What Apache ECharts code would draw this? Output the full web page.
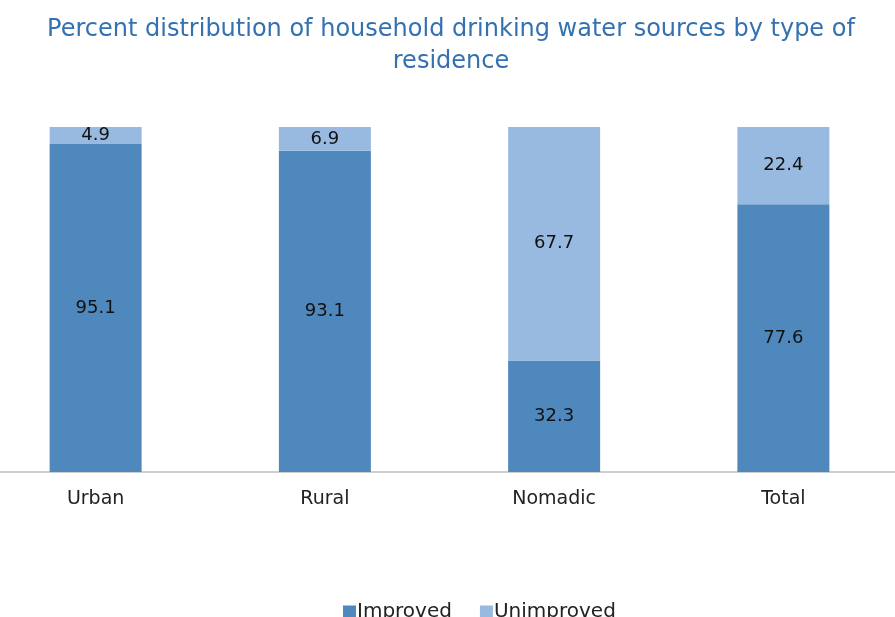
<!DOCTYPE html>
<html>
<head>
<meta charset="utf-8">
<script src="https://cdn.jsdelivr.net/npm/echarts@6/dist/echarts.min.js"></script>
<style>
  html, body { margin: 0; padding: 0; background: #fff; overflow: hidden; }
  /* the plot area runs a little past the left edge of the picture */
  #chart { width: 917px; height: 617px; margin-left: -19px; }
</style>
</head>
<body>
<div id="chart"></div>
<script>
var categories = ['Urban', 'Rural', 'Nomadic', 'Total'];
var improved = [95.1, 93.1, 32.3, 77.6];
var unimproved = [4.9, 6.9, 67.7, 22.4];

var FONT = 'DejaVu Sans';

var myChart = echarts.init(document.getElementById('chart'));
var option = {
    backgroundColor: '#ffffff',
    animation: false,
    title: {
        text: 'Percent distribution of household drinking water sources by type of\nresidence',
        left: 465,
        textAlign: 'center',
        top: 9,
        textStyle: {
            color: '#3471b0',
            fontFamily: FONT,
            fontWeight: 'normal',
            fontSize: 24,
            lineHeight: 32
        }
    },
    legend: {
        data: ['Improved', 'Unimproved'],
        left: 357,
        top: 597,
        itemWidth: 13,
        itemHeight: 13,
        itemGap: 28,
        icon: 'rect',
        textStyle: { color: '#222', fontFamily: FONT, fontSize: 20, padding: [0, 0, 0, -4] }
    },
    grid: { left: 0, right: 0, top: 127, bottom: 145, containLabel: false },
    xAxis: {
        type: 'category',
        data: categories,
        axisLine: { lineStyle: { color: '#bfbfbf', width: 1.5 } },
        axisTick: { show: false },
        axisLabel: { color: '#222', fontFamily: FONT, fontSize: 19, margin: 18 }
    },
    yAxis: {
        type: 'value',
        min: 0,
        max: 100,
        show: false,
        splitLine: { show: false }
    },
    series: [{
        name: 'Improved',
        type: 'bar',
        stack: 'all',
        barWidth: 92,
        itemStyle: { color: '#4f88bd' },
        label: { show: true, position: 'inside', color: '#111', fontFamily: FONT, fontSize: 18 },
        data: improved
    }, {
        name: 'Unimproved',
        type: 'bar',
        stack: 'all',
        barWidth: 92,
        itemStyle: { color: '#99bae0' },
        label: { show: true, position: 'inside', color: '#111', fontFamily: FONT, fontSize: 18 },
        data: unimproved
    }]
};
myChart.setOption(option);
</script>
</body>
</html>
